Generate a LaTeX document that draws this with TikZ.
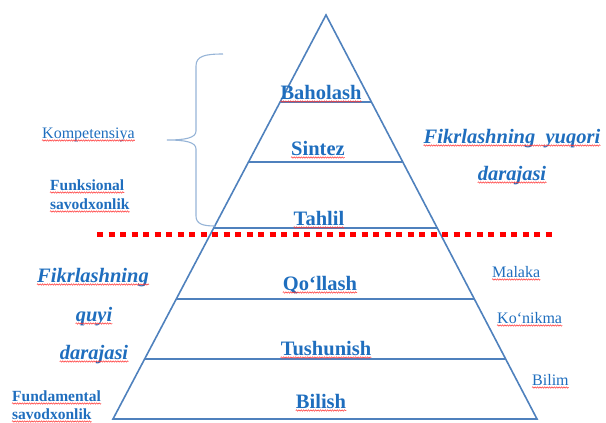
\documentclass[tikz,border=0pt]{standalone}
\usepackage{fontspec}
\setmainfont{Liberation Serif}
\usetikzlibrary{calc,decorations.pathmorphing}
\definecolor{txtblue}{RGB}{31,110,190}
\definecolor{edgeblue}{RGB}{79,129,189}
\definecolor{bracecol}{RGB}{150,180,215}
\begin{document}
\begin{tikzpicture}[x=1pt,y=-1pt,
  level/.style={font=\fontsize{20.5}{24}\selectfont\bfseries, text=txtblue, inner sep=0pt, anchor=base},
  think/.style={font=\fontsize{20.5}{24}\selectfont\bfseries\itshape, text=txtblue, inner sep=0pt, anchor=base},
  skill/.style={font=\fontsize{16}{19}\selectfont, text=txtblue, inner sep=0pt, anchor=base west},
  literacy/.style={font=\fontsize{15.5}{19}\selectfont\bfseries, text=txtblue, inner sep=0pt, anchor=base west},
  edgeline/.style={draw=edgeblue, line width=1.6pt},
  squig/.style={draw=red!80!white, line width=0.5pt, decorate,
    decoration={snake, amplitude=0.7pt, segment length=2.4pt}},
]
\useasboundingbox (0,0) rectangle (606,423);

% pyramid outline
\coordinate (apex) at (326,15);
\coordinate (bl) at (113,419);
\coordinate (br) at (537,419);
\draw[edgeblue, line width=1.6pt, line join=miter] (bl) -- (apex) -- (br) -- cycle;

% level separators
\foreach \yy in {102,162,228,299,359}{
  \draw[edgeline] ($(apex)!{(\yy-15)/404}!(bl)$) -- ($(apex)!{(\yy-15)/404}!(br)$);
}

% red dotted boundary between lower and higher order thinking
\draw[red, line width=5pt, dash pattern=on 6pt off 5.5pt] (97,234) -- (555,234);

% curly brace
\draw[bracecol, line width=1.1pt]
  (223,54) .. controls (205,54) and (196,56) .. (196,66) -- (196,131)
  .. controls (196,138) and (185,140) .. (167,140)
  .. controls (185,140) and (196,142) .. (196,149) -- (196,216)
  .. controls (196,224) and (203,226) .. (215,226);

% pyramid levels
\node[level] (baholash) at (321,99) {Baholash};
\node[level] (sintez) at (318,155) {Sintez};
\node[level] (tahlil) at (319,225) {Tahlil};
\node[level] (qollash) at (320,290) {Qo‘llash};
\node[level] (tushunish) at (326,355) {Tushunish};
\node[level] (bilish) at (321,408) {Bilish};

% thinking orders
\node[think] (hiA) at (512,143) {Fikrlashning\ \ yuqori};
\node[think] (hiB) at (512,180) {darajasi};
\node[think] (loA) at (93,282) {Fikrlashning};
\node[think] (loB) at (94,321) {quyi};
\node[think] (loC) at (94,359) {darajasi};

% side labels
\node[skill] (komp) at (42,138) {Kompetensiya};
\node[literacy] (funkA) at (50,190) {Funksional};
\node[literacy] (funkB) at (50,209) {savodxonlik};
\node[literacy] (fundA) at (12,401) {Fundamental};
\node[literacy] (fundB) at (12,419) {savodxonlik};
\node[skill] (malaka) at (492,277) {Malaka};
\node[skill] (konikma) at (497,323) {Ko‘nikma};
\node[skill] (bilim) at (532,385) {Bilim};

% spell-check underlines
\foreach \n in {baholash,sintez,tahlil,qollash,tushunish,bilish,hiA,hiB,loA,loB,loC,
                komp,funkA,funkB,fundA,fundB,malaka,konikma,bilim}{
  \draw[squig] ([yshift=-2.5pt]\n.base west) -- ([yshift=-2.5pt]\n.base east);
}
\end{tikzpicture}
\end{document}
